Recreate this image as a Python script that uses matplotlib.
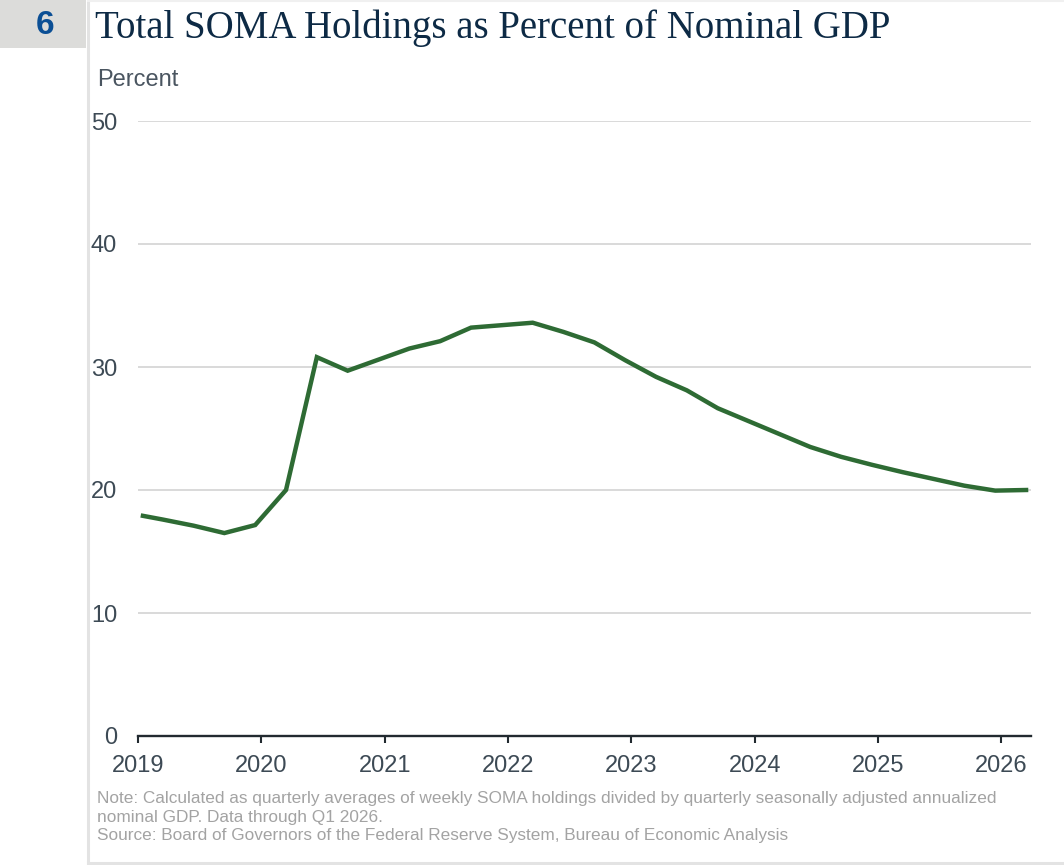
import matplotlib.pyplot as plt
from matplotlib.patches import Rectangle
from matplotlib.lines import Line2D

plt.rcParams['font.family'] = ['Liberation Sans', 'DejaVu Sans']

# decimal-year dates of the quarterly observations
dates = [2019.04, 2019.20, 2019.45, 2019.70, 2019.95,
         2020.20, 2020.45, 2020.70, 2020.95,
         2021.20, 2021.45, 2021.70, 2021.95,
         2022.20, 2022.45, 2022.70, 2022.95,
         2023.20, 2023.45, 2023.70, 2023.95,
         2024.20, 2024.45, 2024.70, 2024.95,
         2025.20, 2025.45, 2025.70, 2025.95, 2026.20]
soma_pct = [17.9, 17.6, 17.1, 16.5, 17.15,
            20.0, 30.8, 29.7, 30.6,
            31.5, 32.1, 33.2, 33.4,
            33.6, 32.85, 32.0, 30.55,
            29.2, 28.1, 26.65, 25.6,
            24.55, 23.5, 22.7, 22.05,
            21.45, 20.9, 20.35, 19.95, 20.0]
year_ticks = [2019, 2020, 2021, 2022, 2023, 2024, 2025, 2026]
pct_ticks = [0, 10, 20, 30, 40, 50]

title = 'Total SOMA Holdings as Percent of Nominal GDP'
note = ('Note: Calculated as quarterly averages of weekly SOMA holdings divided by quarterly seasonally adjusted annualized\n'
        'nominal GDP. Data through Q1 2026.\n'
        'Source: Board of Governors of the Federal Reserve System, Bureau of Economic Analysis')

W, H = 1064, 865
fig = plt.figure(figsize=(W / 100, H / 100), dpi=100)

# --- panel decoration: number box + frame ---
fig.patches.append(Rectangle((0, 1 - 48 / H), 86 / W, 48 / H, transform=fig.transFigure,
                             facecolor='#dcdcda', edgecolor='none'))
fig.text(45 / W, 1 - 26 / H, '6', ha='center', va='center', fontsize=24,
         fontweight='bold', color='#0b4f95')
frame = '#e3e3e3'
fig.lines.append(Line2D([88 / W, 88 / W], [1 - 863 / H, 1], transform=fig.transFigure,
                        color=frame, lw=2.2, zorder=0))
fig.lines.append(Line2D([88 / W, 1], [1 - 863 / H, 1 - 863 / H], transform=fig.transFigure,
                        color=frame, lw=2.2, zorder=0))
fig.lines.append(Line2D([88 / W, 1], [1 - 1 / H, 1 - 1 / H], transform=fig.transFigure,
                        color='#f0f0f0', lw=1.5, zorder=0))

fig.text(95 / W, 1 - 28 / H, title, ha='left', va='center', fontsize=28,
         family='Liberation Serif', color='#0d2a45')
fig.text(97 / W, 1 - 80 / H, 'Percent', ha='left', va='center', fontsize=17,
         color='#4a5560')
fig.text(97 / W, 1 - 791 / H, note, ha='left', va='top', fontsize=12.4,
         color='#a3a3a3', linespacing=1.3)

# --- chart ---
ax = fig.add_axes([138 / W, 1 - 736 / H, (1031 - 138) / W, (736 - 121) / H])
ax.plot(dates, soma_pct, color='#2e6b34', lw=3.2, solid_joinstyle='miter', zorder=3)

ax.set_xlim(2019, 2026.24)
ax.set_ylim(0, 50)
ax.set_xticks(year_ticks)
ax.set_yticks(pct_ticks)
ax.set_xticklabels([str(y) for y in year_ticks])
ax.grid(axis='y', color='#d9d9d9', lw=1.4)
ax.set_axisbelow(True)

for s in ['top', 'right', 'left']:
    ax.spines[s].set_visible(False)
ax.spines['bottom'].set_color('#222a30')
ax.spines['bottom'].set_linewidth(1.7)
ax.spines['bottom'].set_zorder(4)

ax.tick_params(axis='x', length=5, width=1.5, color='#222a30', labelsize=17,
               labelcolor='#3d4a55', pad=9)
ax.tick_params(axis='y', length=0, labelsize=17, labelcolor='#3d4a55', pad=15)

fig.savefig('out.png', dpi=100)
